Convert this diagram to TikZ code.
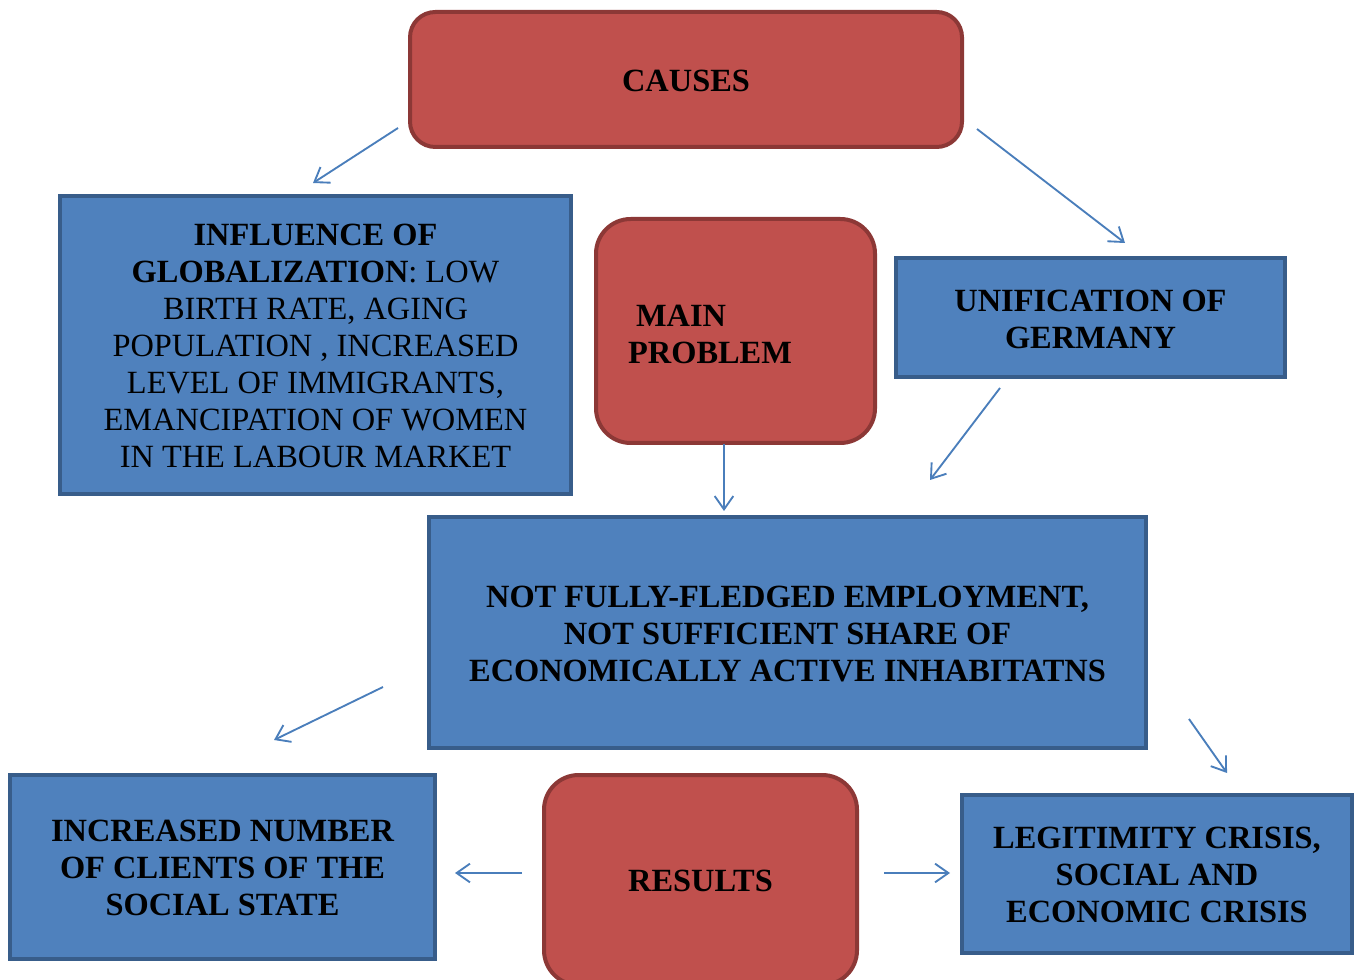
\documentclass[tikz,border=0pt]{standalone}
\usepackage{fontspec}
\setmainfont{Liberation Serif}
\usetikzlibrary{arrows.meta}
\definecolor{redfill}{HTML}{C0504D}
\definecolor{redline}{HTML}{8C3836}
\definecolor{bluefill}{HTML}{4F81BD}
\definecolor{blueline}{HTML}{385D8A}
\definecolor{arrowcol}{HTML}{4A7EBB}
\newcommand{\myfs}{\fontsize{24.3}{27.75}\selectfont}
\begin{document}
\begin{tikzpicture}[x=0.75pt,y=-0.75pt,
  redbox/.style={draw=redline,fill=redfill,line width=3pt,inner sep=0pt},
  bluebox/.style={draw=blueline,fill=bluefill,line width=3pt,inner sep=0pt},
  txt/.style={align=center,font=\myfs,inner sep=0pt},
  btxt/.style={txt,font=\myfs\bfseries},
  conn/.style={draw=arrowcol,line width=1.4pt,-{Straight Barb[length=10pt,width=14pt,line width=1.4pt]}}]
\useasboundingbox (0,0) rectangle (1354,980);
% boxes
\node[redbox,rounded corners=19pt,minimum width=414pt,minimum height=101.25pt] (causes) at (686,79.5) {};
\node[btxt] (causest) at (686,81) {CAUSES};

\node[bluebox,minimum width=383.25pt,minimum height=223.5pt] (infl) at (315.5,345) {};
\node[txt] (inflt) at (315.5,346) {\textbf{INFLUENCE OF}\\\textbf{GLOBALIZATION}: LOW\\BIRTH RATE, AGING\\POPULATION , INCREASED\\LEVEL OF IMMIGRANTS,\\EMANCIPATION OF WOMEN\\IN THE LABOUR MARKET};

\node[redbox,rounded corners=26pt,minimum width=209.25pt,minimum height=168pt] (main) at (735.5,331) {};
\node[btxt,align=left] (maint) at (710,334) {\hspace*{6pt}MAIN\\PROBLEM};

\node[bluebox,minimum width=291.75pt,minimum height=89.25pt] (unif) at (1090.5,317.5) {};
\node[btxt] (unift) at (1090.5,319) {UNIFICATION OF\\GERMANY};

\node[bluebox,minimum width=537.75pt,minimum height=173.25pt] (empl) at (787.5,632.5) {};
\node[btxt] (emplt) at (787.5,634) {NOT FULLY-FLEDGED EMPLOYMENT,\\NOT SUFFICIENT SHARE OF\\ECONOMICALLY ACTIVE INHABITATNS};

\node[bluebox,minimum width=318.75pt,minimum height=138pt] (clients) at (222.5,867) {};
\node[btxt] (clientst) at (222.5,868) {INCREASED NUMBER\\OF CLIENTS OF THE\\SOCIAL STATE};

\node[redbox,rounded corners=26pt,minimum width=234.75pt,minimum height=157.5pt] (results) at (700.5,880) {};
\node[btxt] (resultst) at (700.5,881) {RESULTS};

\node[bluebox,minimum width=292.5pt,minimum height=118.5pt] (legit) at (1157,874) {};
\node[btxt] (legitt) at (1157,875) {LEGITIMITY CRISIS,\\SOCIAL AND\\ECONOMIC CRISIS};

% arrow end points
\coordinate (a1s) at (398,128); \coordinate (a1e) at (313,183);
\coordinate (a2s) at (977,129); \coordinate (a2e) at (1125,243);
\coordinate (a3s) at (724,444); \coordinate (a3e) at (724,511);
\coordinate (a4s) at (1000,388); \coordinate (a4e) at (930,480);
\coordinate (a5s) at (383,687); \coordinate (a5e) at (274,740);
\coordinate (a6s) at (1189,719); \coordinate (a6e) at (1227,773);
\coordinate (a7s) at (522,873); \coordinate (a7e) at (455,873);
\coordinate (a8s) at (884,873); \coordinate (a8e) at (950,873);
\foreach \i in {1,...,8} \draw[conn] (a\i s) -- (a\i e);
\end{tikzpicture}
\end{document}
